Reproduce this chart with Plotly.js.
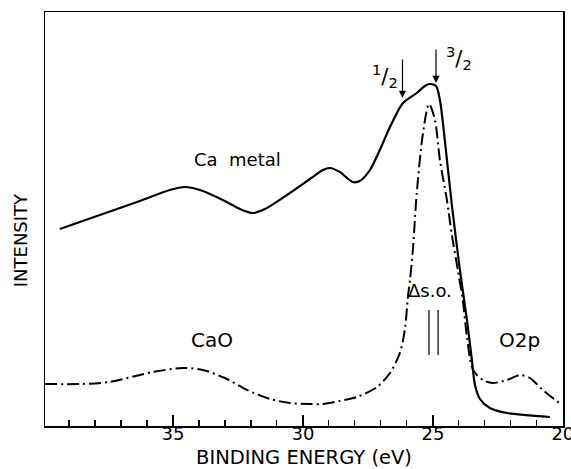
<!DOCTYPE html>
<html>
<head>
<meta charset="utf-8">
<script src="https://cdn.plot.ly/plotly-3.0.1.min.js"></script>
<style>html,body{margin:0;padding:0;background:#fff;}#chart{width:571px;height:469px;}</style>
</head>
<body>
<div id="chart"></div>
<script>
// Ca metal (solid) : binding energy (eV) and intensity (arb. units)
var metalEnergy = [39.35, 37.81, 36.27, 35.12, 34.54, 33.96, 33.08, 32.42, 31.92, 31.46, 30.5, 29.73, 29.23, 28.96, 28.58, 28.08, 27.81, 27.42, 27.04, 26.65, 26.15, 25.62, 25.31, 25.12, 24.88, 24.73, 24.5, 24.27, 23.96, 23.69, 23.5, 23.38, 23.19, 22.81, 22.15, 20.5];
var metalIntensity = [197, 211, 225, 236, 239, 236, 226, 217, 213, 217, 233, 247, 256, 258, 254, 244, 245, 256, 276, 299, 323, 333, 340, 342, 340, 326, 276, 221, 156, 106, 66, 41, 27, 18, 13, 9];

// CaO (dash-dot)
var oxideEnergy = [39.92, 38.58, 37.44, 35.77, 34.62, 33.85, 33.0, 32.15, 31.27, 30.5, 29.73, 29.23, 28.58, 27.92, 27.15, 26.65, 26.27, 26.08, 25.96, 25.88, 25.77, 25.62, 25.38, 25.15, 24.92, 24.73, 24.46, 24.27, 24.04, 23.85, 23.69, 23.5, 23.31, 23.0, 22.69, 22.15, 21.65, 21.27, 20.77, 20.04];
var oxideIntensity = [42, 42, 44, 54, 58, 56, 48, 36, 27, 23, 22, 22, 25, 29, 39, 53, 73, 96, 129, 146, 176, 233, 293, 322, 306, 266, 226, 191, 156, 126, 89, 59, 51, 45, 43, 46, 51, 48, 36, 21];

// Axis ticks
var majorTicks = [35, 30, 25, 20];
var majorTickLabels = ['35', '30', '25', '20'];

// Spin-orbit markers
var arrowEnergies = [26.17, 24.88];
var arrowLabels = ['<sup>1</sup>/<sub>2</sub>', '<sup>3</sup>/<sub>2</sub>'];
var soLineEnergies = [25.15, 24.8];

var FONT = 'DejaVu Sans, Liberation Sans, sans-serif';

var traces = [
  {x: metalEnergy, y: metalIntensity, type: 'scatter', mode: 'lines',
   line: {color: '#000', width: 2.2, shape: 'spline', smoothing: 0.8}, hoverinfo: 'skip', showlegend: false},
  {x: oxideEnergy, y: oxideIntensity, type: 'scatter', mode: 'lines',
   line: {color: '#000', width: 2, shape: 'spline', smoothing: 0.8, dash: '12px,4px,2px,4px'}, hoverinfo: 'skip', showlegend: false}
];

var annotations = [
  {x: -0.048, y: 0.449, xref: 'paper', yref: 'paper', text: 'INTENSITY', showarrow: false, textangle: -90, font: {family: FONT, size: 18, color: '#000'}, xanchor: 'center', yanchor: 'middle'},
  {x: 0.5, y: -0.075, xref: 'paper', yref: 'paper', text: 'BINDING ENERGY (eV)', showarrow: false, font: {family: FONT, size: 19.5, color: '#000'}, xanchor: 'center', yanchor: 'middle'},
  {x: 32.5, y: 267, text: 'Ca  metal', showarrow: false, font: {family: FONT, size: 18, color: '#000'}},
  {x: 33.5, y: 86, text: 'CaO', showarrow: false, font: {family: FONT, size: 20, color: '#000'}},
  {x: 25.1, y: 136, text: '\u0394s.o.', showarrow: false, font: {family: FONT, size: 18, color: '#000'}},
  {x: 21.65, y: 86, text: 'O2p', showarrow: false, font: {family: FONT, size: 20, color: '#000'}},
  {x: 26.85, y: 350, text: arrowLabels[0], showarrow: false, font: {family: FONT, size: 21, color: '#000'}},
  {x: 24.0, y: 368, text: arrowLabels[1], showarrow: false, font: {family: FONT, size: 21, color: '#000'}},
  {x: arrowEnergies[0], y: 328, ax: arrowEnergies[0], ay: 368, axref: 'x', ayref: 'y', text: '', showarrow: true, arrowhead: 2, arrowsize: 1.2, arrowwidth: 1.2, arrowcolor: '#000'},
  {x: arrowEnergies[1], y: 343, ax: arrowEnergies[1], ay: 378, axref: 'x', ayref: 'y', text: '', showarrow: true, arrowhead: 2, arrowsize: 1.2, arrowwidth: 1.2, arrowcolor: '#000'}
];

var shapes = soLineEnergies.map(function (e) {
  return {type: 'line', xref: 'x', yref: 'y', x0: e, x1: e, y0: 71, y1: 116, line: {color: '#000', width: 1.2}};
});

var layout = {
  width: 571, height: 469,
  margin: {l: 45, r: 8, t: 12, b: 43},
  paper_bgcolor: '#fff', plot_bgcolor: '#fff',
  font: {family: FONT, color: '#000'},
  showlegend: false,
  xaxis: {
    range: [39.92, 19.995], tickmode: 'array', tickvals: majorTicks, ticktext: majorTickLabels,
    ticks: 'inside', ticklen: 11, tickwidth: 1.3, tickcolor: '#000',
    minor: {dtick: 1, tick0: 0, ticks: 'inside', ticklen: 6, tickwidth: 1.2, tickcolor: '#000', showgrid: false},
    showgrid: false, zeroline: false, showline: true, mirror: true, linecolor: '#000', linewidth: 1.5,
    tickfont: {family: FONT, size: 18, color: '#000'}, ticklabelstandoff: -9, ticklabeloverflow: 'allow', automargin: false
  },
  yaxis: {
    range: [0, 414], showticklabels: false, ticks: '', showgrid: false, zeroline: false,
    showline: true, mirror: true, linecolor: '#000', linewidth: 1.5, automargin: false
  },
  annotations: annotations,
  shapes: shapes
};

Plotly.newPlot('chart', traces, layout, {displayModeBar: false, staticPlot: true});
</script>
</body>
</html>
